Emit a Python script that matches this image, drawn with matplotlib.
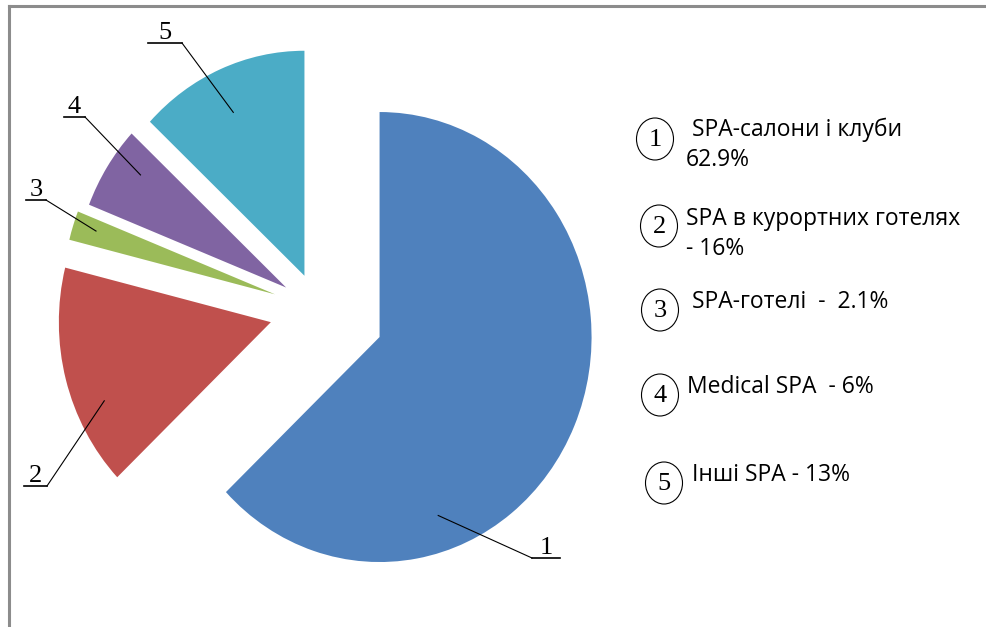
import numpy as np
import matplotlib.pyplot as plt
from matplotlib.patches import Ellipse
from matplotlib.lines import Line2D

# Data
values = [62.9, 16, 2.1, 6, 13]
numbers = ['1', '2', '3', '4', '5']
names = [' SPA-салони і клуби\n62.9%',
         'SPA в курортних готелях\n- 16%',
         ' SPA-готелі  -  2.1%',
         'Medical SPA  - 6%',
         ' Інші SPA - 13%']

# Style / layout
colors = ['#4F81BD', '#C0504D', '#9BBB59', '#8064A2', '#4BACC6']
explode = [0.316, 0.23, 0.213, 0.178, 0.161]
W, H = 987, 627
cx, cy = 318, 309          # pie centre in pixels (from top)
rx, ry = 212, 225          # pie radius in pixels (horizontal, vertical)

# leader lines: position inside wedge (fraction of angle, fraction of radius),
# knee point and horizontal underline (pixels)
lead_frac = [0.29, 0.66, 0.42, 0.33, 0.53]
lead_rad = [0.84, 0.86, 0.89, 0.85, 0.80]
knee = [(532, 558), (47, 486), (46, 200), (85, 117), (182, 43)]
under = [(532, 560), (24, 47), (26, 46), (64, 85), (148, 182)]

circle_xy = [(655, 139), (659, 226), (660, 310), (660, 395), (664, 483)]
text_xy = [(686, 145), (686, 234), (686, 302), (687, 387), (686, 475)]

fig = plt.figure(figsize=(W / 100, H / 100), dpi=100)
ax = fig.add_axes([0, 0, 1, 1])
wedges, _ = ax.pie(values, colors=colors, explode=explode, startangle=90,
                   counterclock=False, wedgeprops=dict(linewidth=0))
ax.set_aspect('auto')
ax.set_xlim(-cx / rx, (W - cx) / rx)
ax.set_ylim(-(H - cy) / ry, cy / ry)
ax.axis('off')

# overlay in pixel coordinates for labels
ov = fig.add_axes([0, 0, 1, 1])
ov.set_xlim(0, W)
ov.set_ylim(H, 0)
ov.axis('off')
ov.patch.set_alpha(0)

serif = 'Liberation Serif'
for i, w in enumerate(wedges):
    ang = np.deg2rad(w.theta1 + lead_frac[i] * (w.theta2 - w.theta1))
    px = w.center[0] + lead_rad[i] * w.r * np.cos(ang)
    py = w.center[1] + lead_rad[i] * w.r * np.sin(ang)
    tx, ty = ov.transData.inverted().transform(ax.transData.transform((px, py)))
    kx, ky = knee[i]
    ov.plot([tx, kx], [ty, ky], color='black', lw=0.8)
    ov.plot(under[i], [ky, ky], color='black', lw=1.2)
    ov.text(sum(under[i]) / 2, ky - 4, numbers[i], family=serif, fontsize=19,
            ha='center', va='baseline')

# legend
for i in range(len(values)):
    ex, ey = circle_xy[i]
    ov.add_patch(Ellipse((ex, ey), 37, 42, fill=False, edgecolor='black', lw=0.8))
    ov.text(ex, ey + 1, numbers[i], family=serif, fontsize=19, ha='center', va='center')
    ov.text(text_xy[i][0], text_xy[i][1], names[i], family=['Open Sans', 'DejaVu Sans'],
            fontsize=16.5, ha='left', va='center', linespacing=1.35)

# frame
fig.add_artist(Line2D([9 / W, 1], [1 - 6 / H, 1 - 6 / H], color='#8c8c8c', lw=2.2))
fig.add_artist(Line2D([9 / W, 9 / W], [0, 1 - 6 / H], color='#8c8c8c', lw=2.2))

fig.savefig('out.png', dpi=100)
